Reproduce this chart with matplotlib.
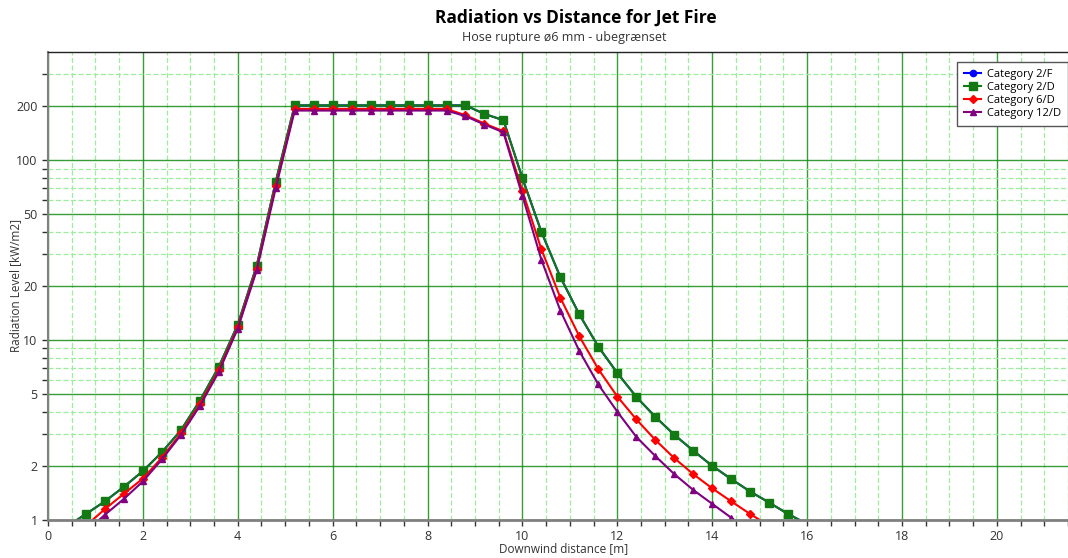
import matplotlib
matplotlib.use('Agg')
import matplotlib.pyplot as plt
from matplotlib.ticker import FixedLocator, NullFormatter

plt.rcParams['font.family'] = ['Open Sans', 'DejaVu Sans']

# downwind distance [m] and radiation level [kW/m2]
x_2d = [0.4, 0.8, 1.2, 1.6, 2.0, 2.4, 2.8, 3.2, 3.6, 4.0, 4.4, 4.8, 5.2, 5.6, 6.0, 6.4,
        6.8, 7.2, 7.6, 8.0, 8.4, 8.8, 9.2, 9.6, 10.0, 10.4, 10.8, 11.2, 11.6, 12.0, 12.4,
        12.8, 13.2, 13.6, 14.0, 14.4, 14.8, 15.2, 15.6, 16.0]
y_2d = [0.92, 1.08, 1.27, 1.53, 1.87, 2.38, 3.15, 4.6, 7.1, 12.2, 26, 76, 202, 202, 202, 202,
        202, 202, 202, 202, 202, 202, 181, 167, 79.5, 40, 22.4, 13.9, 9.2, 6.57, 4.84,
        3.75, 2.98, 2.43, 2.0, 1.69, 1.44, 1.25, 1.08, 0.95]
# category 2/F lies under 2/D
x_2f = x_2d
y_2f = y_2d

x_6d = [0.8, 1.2, 1.6, 2.0, 2.4, 2.8, 3.2, 3.6, 4.0, 4.4, 4.8, 5.2, 5.6, 6.0, 6.4, 6.8,
        7.2, 7.6, 8.0, 8.4, 8.8, 9.2, 9.6, 10.0, 10.4, 10.8, 11.2, 11.6, 12.0, 12.4, 12.8,
        13.2, 13.6, 14.0, 14.4, 14.8, 15.2]
y_6d = [0.93, 1.15, 1.40, 1.70, 2.22, 3.03, 4.4, 6.8, 11.8, 25, 72, 193, 193, 193, 193, 193,
        193, 193, 193, 193, 178, 160, 145, 67.5, 32, 17.2, 10.5, 6.9, 4.86, 3.63, 2.79,
        2.21, 1.80, 1.50, 1.27, 1.08, 0.93]

x_12d = [0.8, 1.2, 1.6, 2.0, 2.4, 2.8, 3.2, 3.6, 4.0, 4.4, 4.8, 5.2, 5.6, 6.0, 6.4, 6.8,
         7.2, 7.6, 8.0, 8.4, 8.8, 9.2, 9.6, 10.0, 10.4, 10.8, 11.2, 11.6, 12.0, 12.4, 12.8,
         13.2, 13.6, 14.0, 14.4, 14.8]
y_12d = [0.86, 1.07, 1.31, 1.64, 2.17, 2.97, 4.30, 6.66, 11.6, 24.5, 70, 189, 189, 189, 189, 189,
         189, 189, 189, 189, 176, 158, 143, 63.5, 28, 14.6, 8.7, 5.67, 4.0, 2.9, 2.27,
         1.80, 1.47, 1.23, 1.03, 0.86]

y_major = [1, 2, 5, 10, 20, 50, 100, 200]
y_minor = [3, 4, 6, 7, 8, 9, 30, 40, 60, 70, 80, 90, 300]

fig = plt.figure(figsize=(10.68, 5.58), dpi=100)
ax = fig.add_axes([48 / 1068, 38 / 558, 1 - 48 / 1068, (520 - 52) / 558])

ax.plot(x_2f, y_2f, color='#0000FF', marker='o', ms=4.5, lw=1.5, label='Category 2/F')
ax.plot(x_2d, y_2d, color='#137A13', marker='s', ms=5.5, lw=1.5, label='Category 2/D')
ax.plot(x_6d, y_6d, color='#FF0000', marker='D', ms=4.5, lw=1.5, label='Category 6/D')
ax.plot(x_12d, y_12d, color='#800080', marker='^', ms=4.5, lw=1.5, label='Category 12/D')

ax.set_yscale('log')
ax.set_xlim(0, 21.5)
ax.set_ylim(1, 400)

ax.yaxis.set_major_locator(FixedLocator(y_major))
ax.yaxis.set_major_formatter(matplotlib.ticker.FixedFormatter([str(v) for v in y_major]))
ax.yaxis.set_minor_locator(FixedLocator(y_minor))
ax.yaxis.set_minor_formatter(NullFormatter())
ax.xaxis.set_major_locator(matplotlib.ticker.MultipleLocator(2))
ax.xaxis.set_minor_locator(matplotlib.ticker.MultipleLocator(0.5))

ax.grid(which='major', color='#148C14', lw=1, alpha=0.85)
ax.grid(which='minor', color='#9CEE9C', lw=0.9, ls=(0, (4, 2)))
ax.set_axisbelow(True)

ax.tick_params(which='both', direction='out', length=4, width=1, color='#333333',
               labelsize=9, labelcolor='#333333')

ax.spines['right'].set_visible(False)
ax.spines['top'].set_color('#222222')
ax.spines['top'].set_linewidth(1)
ax.spines['left'].set_color('#808080')
ax.spines['left'].set_linewidth(1.5)
ax.spines['bottom'].set_color('#808080')
ax.spines['bottom'].set_linewidth(2)

fig.text(576 / 1068, 1 - 18 / 558, 'Radiation vs Distance for Jet Fire', ha='center', va='center',
         fontsize=12.5, fontweight='bold')
fig.text(564 / 1068, 1 - 38 / 558, 'Hose rupture ø6 mm - ubegrænset', ha='center', va='center',
         fontsize=9, color='#333333')
fig.text(564 / 1068, 1 - 549 / 558, 'Downwind distance [m]', ha='center', va='center',
         fontsize=8.5, color='#333333')
fig.text(16 / 1068, 1 - 285 / 558, 'Radiation Level [kW/m2]', ha='center', va='center',
         rotation=90, fontsize=8.5, color='#333333')

leg = ax.legend(loc='upper left', bbox_to_anchor=(957 / 1068, 1 - 62 / 558),
                bbox_transform=fig.transFigure, fancybox=False, fontsize=8,
                handlelength=1.6, borderpad=0.6, labelspacing=0.2, handletextpad=0.5,
                borderaxespad=0)
leg.get_frame().set_edgecolor('#555555')
leg.get_frame().set_linewidth(1)
leg.get_frame().set_alpha(1)

fig.savefig('out.png', dpi=100)
